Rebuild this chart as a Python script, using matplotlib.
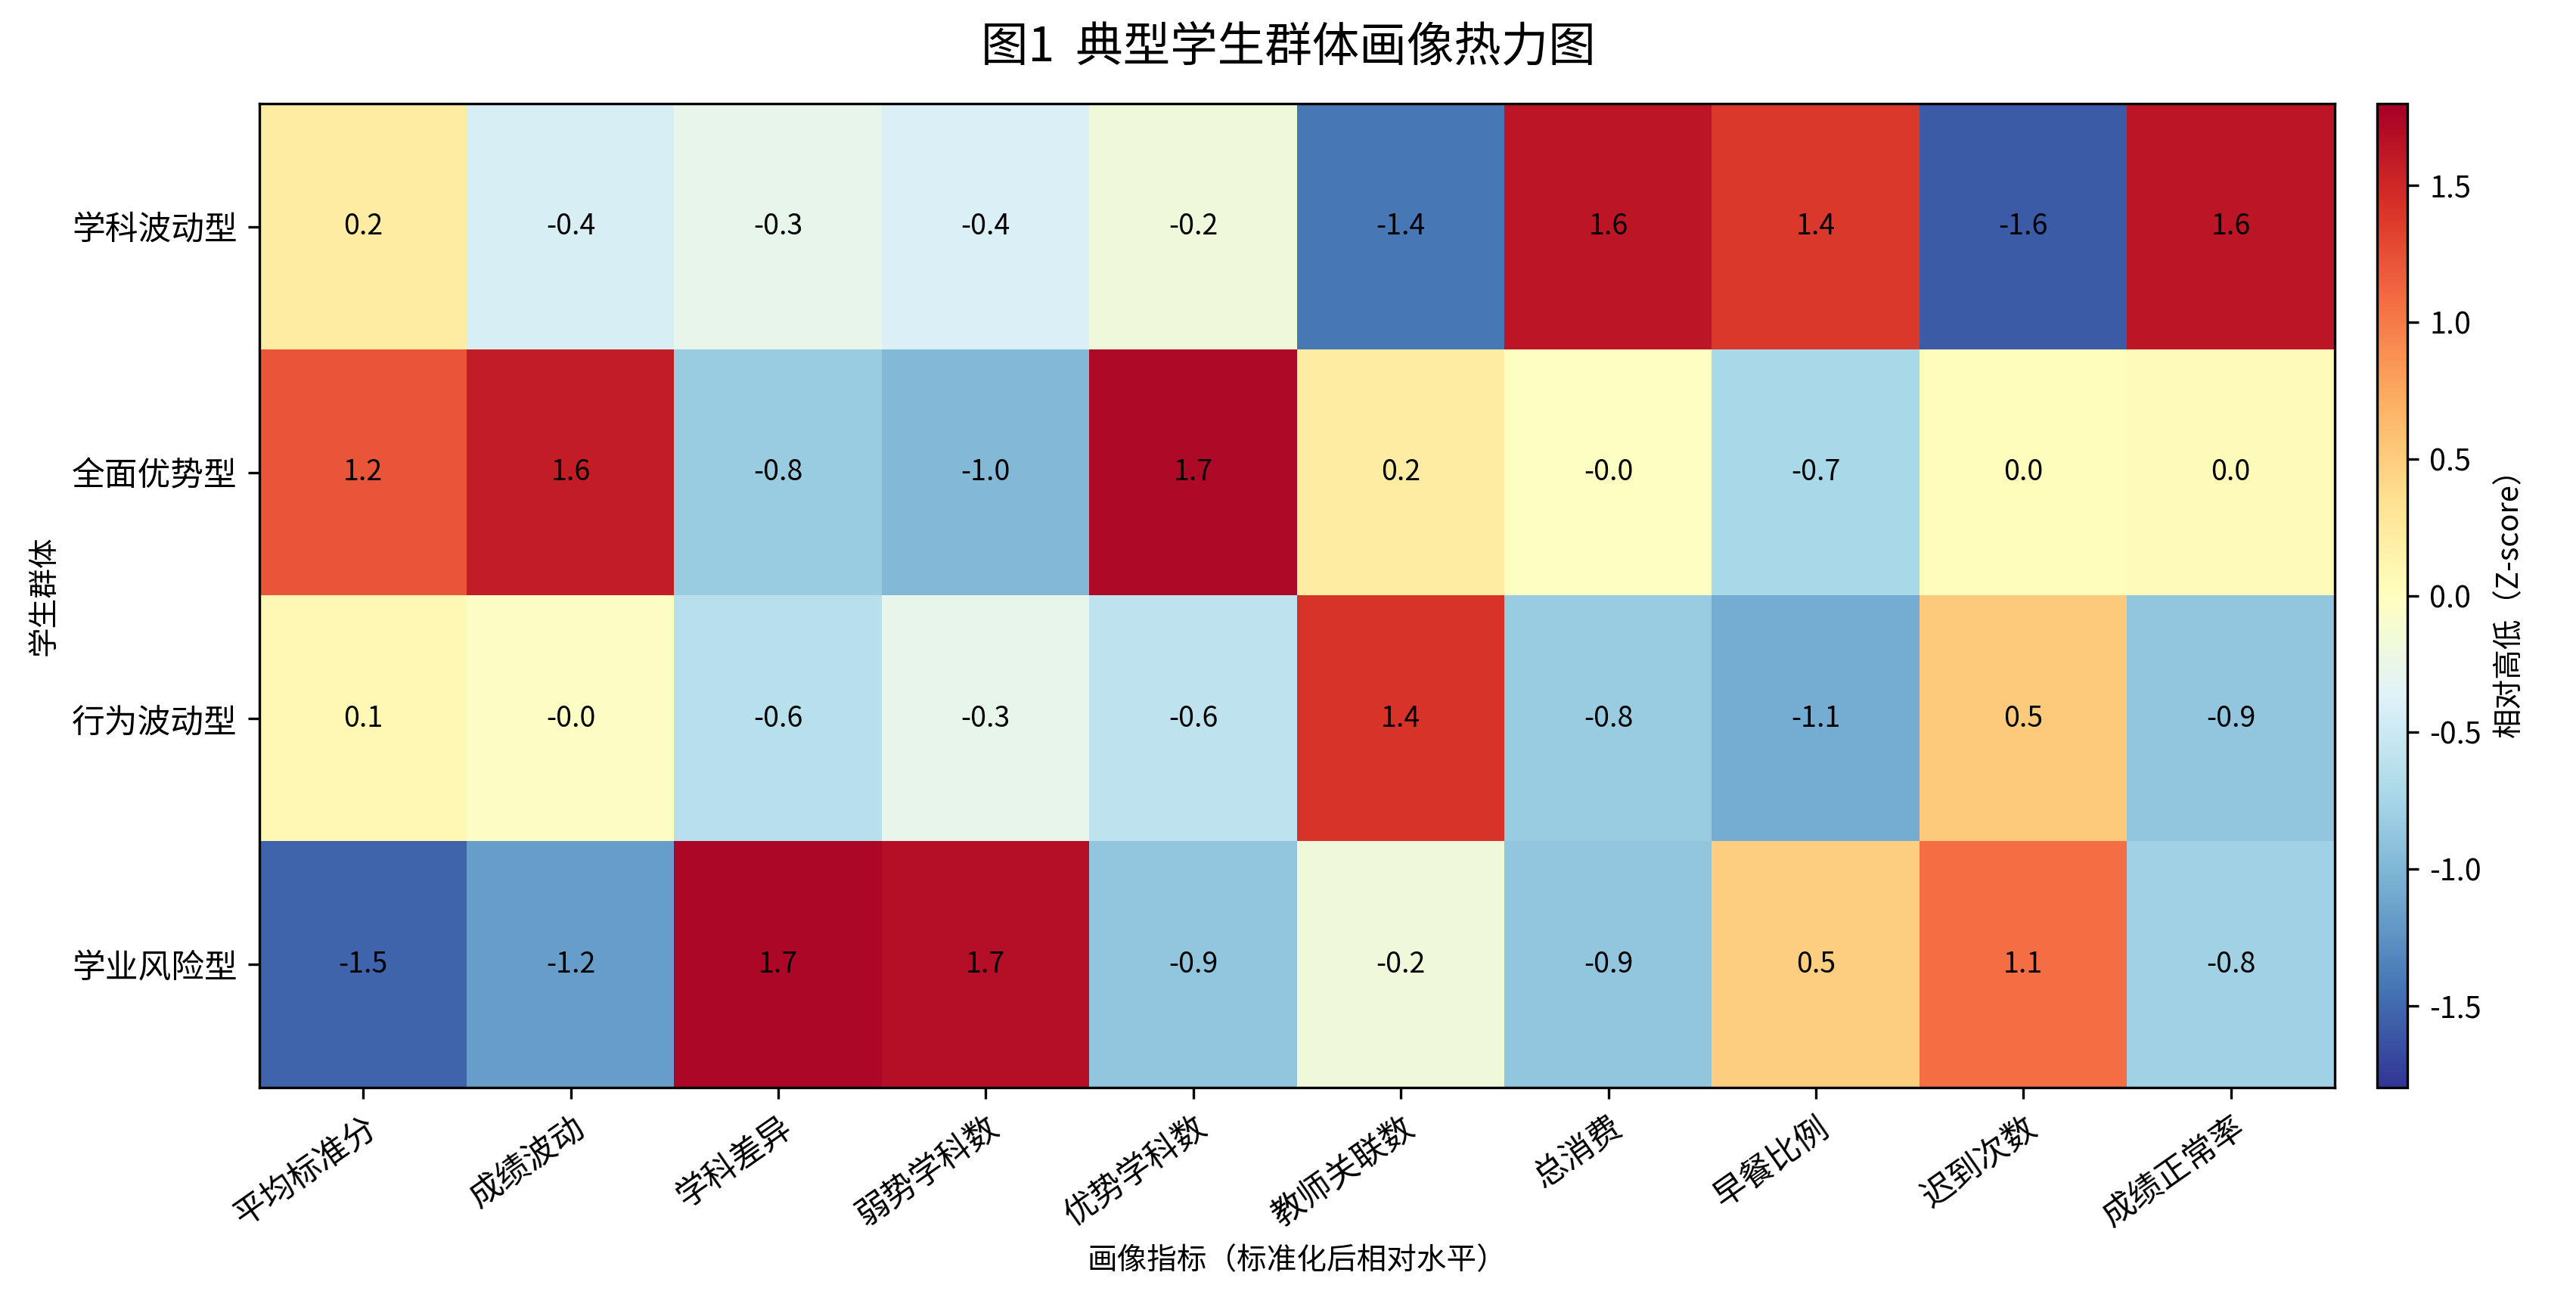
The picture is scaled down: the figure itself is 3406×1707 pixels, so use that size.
## plot.py: heatmap of typical student group profiles
# -----------------------------------------------------------------------------
import numpy as np
import matplotlib
matplotlib.use('Agg')
from matplotlib import pyplot as plt

plt.rcParams['font.family'] = ['Noto Sans CJK SC', 'DejaVu Sans']
plt.rcParams['axes.unicode_minus'] = False

# -----------------------------------------------------------------------------
## --- data ---
groups = ['学科波动型', '全面优势型', '行为波动型', '学业风险型']
indicators = ['平均标准分', '成绩波动', '学科差异', '弱势学科数', '优势学科数',
              '教师关联数', '总消费', '早餐比例', '迟到次数', '成绩正常率']
row_subject = [0.22, -0.42, -0.28, -0.38, -0.18, -1.42, 1.62, 1.38, -1.58, 1.62]
row_allround = [1.22, 1.58, -0.82, -0.98, 1.72, 0.22, -0.02, -0.72, 0.02, 0.04]
row_behavior = [0.08, -0.03, -0.62, -0.28, -0.58, 1.42, -0.82, -1.08, 0.52, -0.88]
row_risk = [-1.52, -1.18, 1.74, 1.68, -0.88, -0.18, -0.88, 0.48, 1.08, -0.78]
zmin, zmax = -1.8, 1.8

values = np.array([row_subject, row_allround, row_behavior, row_risk])

# -----------------------------------------------------------------------------
## --- drawing ---
fig = plt.figure(figsize=(3406/300, 1707/300), dpi=300)
ax = fig.add_axes([0.1007, 0.1576, 0.8056, 0.7621])
cax = fig.add_axes([0.9228, 0.1576, 0.0118, 0.7621])

im = ax.imshow(values, cmap='RdYlBu_r', vmin=zmin, vmax=zmax, aspect='auto')
for ii in range(values.shape[0]):
    for jj in range(values.shape[1]):
        ax.text(jj, ii, f'{values[ii, jj]:.1f}', ha='center', va='center',
                fontsize=9, color='black')

ax.set_xticks(range(len(indicators)))
ax.set_xticklabels(indicators, rotation=35, ha='right', rotation_mode='anchor',
                   fontsize=10.5)
ax.set_yticks(range(len(groups)))
ax.set_yticklabels(groups, fontsize=10.5)
ax.set_xlabel('画像指标（标准化后相对水平）', fontsize=9.5)
ax.set_ylabel('学生群体', fontsize=9.5)

cbar = fig.colorbar(im, cax=cax)
cbar.set_ticks([-1.5, -1.0, -0.5, 0.0, 0.5, 1.0, 1.5])
cbar.ax.tick_params(labelsize=9.5)
cbar.set_label('相对高低（Z-score）', fontsize=9.5)

fig.suptitle('图1  典型学生群体画像热力图', fontsize=15, y=0.982)
fig.savefig('out.png', dpi=300)
